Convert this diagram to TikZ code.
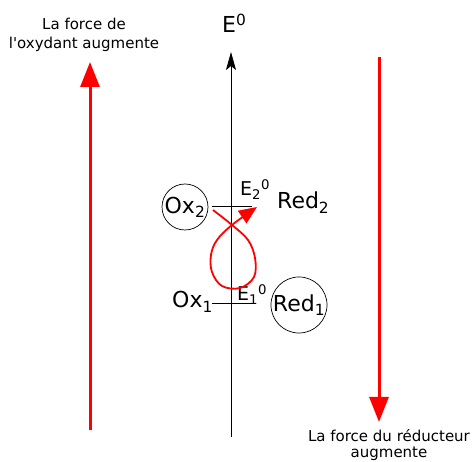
\documentclass[tikz,border=0pt]{standalone}
\usepackage{fontspec}
\setmainfont{DejaVu Sans}[Ligatures=TeXOff]
\usetikzlibrary{arrows.meta}
\begin{document}
\begin{tikzpicture}[x=1pt,y=-1pt,
  redarrow/.style={red, line width=3, -{Triangle[length=25,width=19]}},
  axisarrow/.style={black, line width=0.8, -{Stealth[length=18,width=10,inset=4]}},
  level/.style={black, line width=0.6},
  species/.style={circle, draw, line width=0.7, inner sep=0, font=\fontsize{22}{24}\selectfont},
  bigtxt/.style={inner sep=0, font=\fontsize{22}{24}\selectfont, anchor=base west},
  lbltxt/.style={inner sep=0, font=\fontsize{19}{21}\selectfont, anchor=base west},
  smalltxt/.style={inner sep=0, font=\fontsize{15}{18}\selectfont, anchor=base},
  loop/.style={red, line width=1.8, -{Triangle[length=18,width=15]}}
]
\useasboundingbox (0,0) rectangle (472,462);
% axis
\coordinate (axb) at (231,437);
\coordinate (axt) at (231,52);
\draw[axisarrow] (axb) -- (axt);
\node[bigtxt] (E0) at (222,33) {E\textsuperscript{0}};
% red arrows
\coordinate (lb) at (90,430);
\coordinate (lt) at (90,62);
\draw[redarrow] (lb) -- (lt);
\coordinate (rt) at (379,57);
\coordinate (rb) at (379,422);
\draw[redarrow] (rt) -- (rb);
% texts
\node[smalltxt] (t1) at (84,30) {La force de};
\node[smalltxt] (t2) at (84,49) {l\textquotesingle oxydant augmente};
\node[smalltxt] (t3) at (389,442) {La force du réducteur};
\node[smalltxt] (t4) at (389,458) {augmente};
% levels
\coordinate (l2a) at (212,206);
\coordinate (l2b) at (252,206);
\draw[level] (l2a) -- (l2b);
\coordinate (l1a) at (212,303);
\coordinate (l1b) at (252,303);
\draw[level] (l1a) -- (l1b);
% species
\node[species, minimum size=46] (ox2) at (185,207) {Ox\textsubscript{2}};
\node[species, minimum size=54] (red1) at (299,305) {Red\textsubscript{1}};
\node[bigtxt] (red2) at (277,209) {Red\textsubscript{2}};
\node[bigtxt] (ox1) at (172,308) {Ox\textsubscript{1}};
\node[lbltxt] (e2) at (240,196) {E\textsubscript{2}\textsuperscript{0}};
\node[lbltxt] (e1) at (237,301) {E\textsubscript{1}\textsuperscript{0}};
% loop
\coordinate (ls) at (213,210);
\coordinate (le) at (257,207);
\draw[loop] plot[smooth, tension=0.6] coordinates {(ls) (232,225) (248,240) (255,258) (254,277) (240,288) (222,286) (212,272) (211,255) (217,240) (232,225) (le)};
\end{tikzpicture}
\end{document}
